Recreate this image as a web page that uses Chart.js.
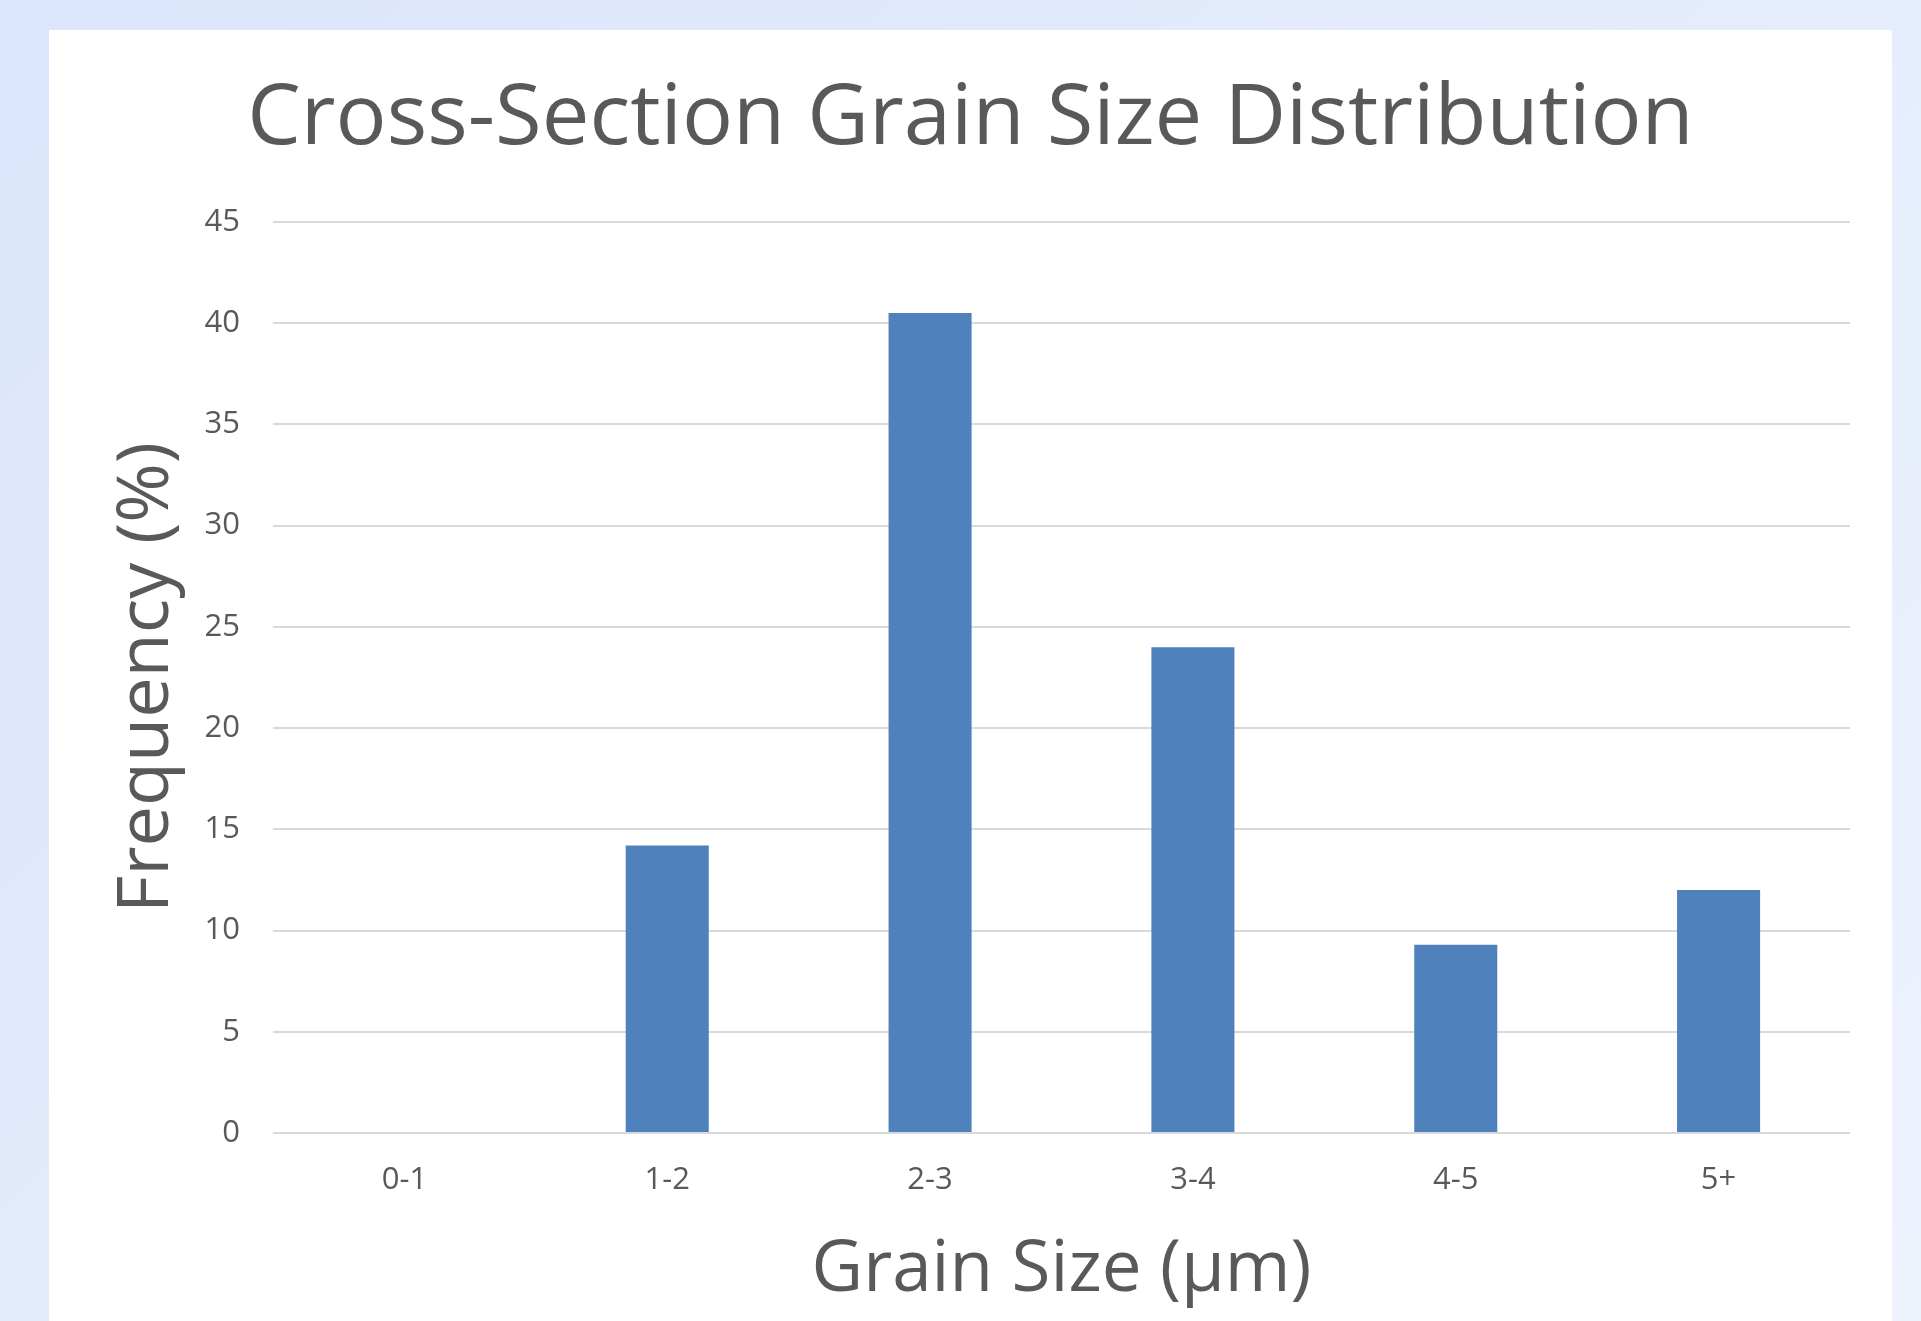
<!DOCTYPE html>
<html>
<head>
<meta charset="utf-8">
<title>Cross-Section Grain Size Distribution</title>
<script src="https://cdn.jsdelivr.net/npm/chart.js@4.4.1/dist/chart.umd.min.js"></script>
<style>
  html, body {
    margin: 0;
    padding: 0;
    width: 1921px;
    height: 1321px;
    overflow: hidden;
    background: linear-gradient(135deg, #dbe5fb 0%, #e4ecfc 50%, #edf2fd 100%);
  }
  #panel {
    position: absolute;
    left: 49px;
    top: 30px;
    width: 1843px;
    height: 1291px;
    background: #ffffff;
  }
</style>
</head>
<body>
<div id="panel"><canvas id="grainChart"></canvas></div>
<script>
// Data
const categories = ['0-1', '1-2', '2-3', '3-4', '4-5', '5+'];
const frequency = [0, 14.2, 40.5, 24, 9.3, 12];
const yMin = 0;
const yMax = 45;
const yStep = 5;

const textColor = '#595959';
const barColor = '#4f81bd';
const gridColor = '#d9d9d9';

Chart.defaults.font.family = "'Open Sans', 'Noto Sans', sans-serif";
Chart.defaults.color = textColor;

const ctx = document.getElementById('grainChart').getContext('2d');

new Chart(ctx, {
    type: 'bar',
    data: {
        labels: categories,
        datasets: [{
            label: 'Frequency (%)',
            data: frequency,
            backgroundColor: barColor,
            borderWidth: 0,
            barPercentage: 0.316,
            categoryPercentage: 1
        }]
    },
    options: {
        responsive: true,
        maintainAspectRatio: false,
        animation: false,
        layout: {
            // same on both sides so the title stays centred on the panel
            padding: { left: 42, right: 42, top: 0, bottom: 0 }
        },
        plugins: {
            legend: { display: false },
            tooltip: { enabled: false },
            title: {
                display: true,
                text: 'Cross-Section Grain Size Distribution',
                color: textColor,
                font: { size: 85, weight: 'normal' },
                padding: { top: 39, bottom: 51 }
            }
        },
        scales: {
            x: {
                grid: { display: false, drawTicks: false },
                border: { display: false },
                ticks: {
                    color: textColor,
                    font: { size: 31 },
                    padding: 29
                },
                title: {
                    display: true,
                    text: 'Grain Size (µm)',
                    color: textColor,
                    font: { size: 71 },
                    padding: { top: 0, bottom: 8 }
                },
                afterFit: scale => { scale.height = 188; }
            },
            y: {
                min: yMin,
                max: yMax,
                grid: {
                    color: gridColor,
                    lineWidth: 2,
                    drawTicks: false
                },
                border: { display: false },
                ticks: {
                    stepSize: yStep,
                    color: textColor,
                    font: { size: 31 },
                    padding: 33
                },
                title: {
                    display: true,
                    text: 'Frequency (%)',
                    color: textColor,
                    font: { size: 72 },
                    padding: { top: 13, bottom: 0 }
                },
                afterFit: scale => { scale.width = 182; }
            }
        }
    }
});
</script>
</body>
</html>
